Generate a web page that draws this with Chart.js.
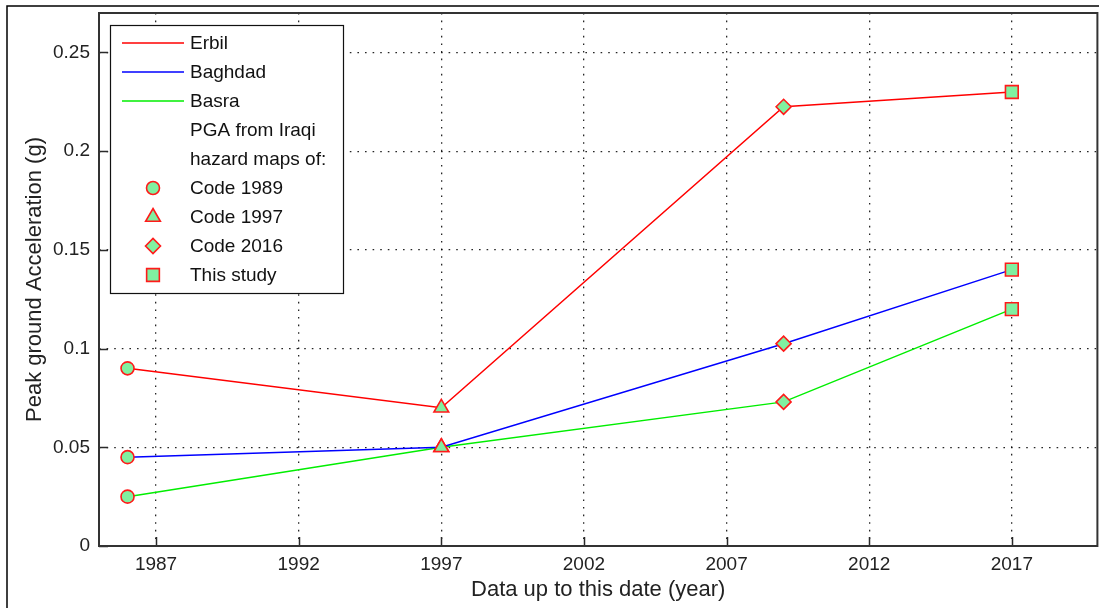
<!DOCTYPE html>
<html>
<head>
<meta charset="utf-8">
<script src="https://cdn.jsdelivr.net/npm/chart.js@4.4.1/dist/chart.umd.min.js"></script>
<style>
  html, body { margin: 0; padding: 0; background: #fff; overflow: hidden; }
  #wrap { width: 1099px; height: 608px; overflow: hidden; }
</style>
</head>
<body>
<div id="wrap"><canvas id="pga" width="1108" height="608"></canvas></div>
<script>
// data
const years = [1986, 1997, 2009, 2017];
const erbil = [0.09, 0.07, 0.2225, 0.23];
const baghdad = [0.045, 0.05, 0.1025, 0.14];
const basra = [0.025, 0.05, 0.073, 0.12];

const seriesNames = ["Erbil", "Baghdad", "Basra"];
const seriesColors = ["#ff0000", "#0000ff", "#00ee00"];
const noteLines = ["PGA from Iraqi", "hazard maps of:"];
const codeLabels = ["Code 1989", "Code 1997", "Code 2016", "This study"];

const xTicks = [1987, 1992, 1997, 2002, 2007, 2012, 2017];
const yTicks = [0, 0.05, 0.1, 0.15, 0.2, 0.25];

const markerStyles = ["circle", "triangle", "rectRot", "rect"];
const markerRadius = [6.5, 8.5, 7.5, 9];
const markerFill = "#80f0a0";
const markerEdge = "#ff1a1a";
const FONT = "'Liberation Sans', Arial, sans-serif";

function toPoints(vals) {
    return vals.map((v, i) => ({ x: years[i], y: v }));
}

const datasets = [erbil, baghdad, basra].map((vals, i) => ({
    label: seriesNames[i],
    data: toPoints(vals),
    showLine: true,
    borderColor: seriesColors[i],
    borderWidth: 1.5,
    pointStyle: markerStyles,
    pointRadius: markerRadius,
    pointBackgroundColor: markerFill,
    pointBorderColor: markerEdge,
    pointBorderWidth: 1.6,
    tension: 0,
}));

// frame, axis box, inward ticks and the in-plot legend
const figureDecor = {
    id: "figureDecor",
    beforeDraw(chart) {
        const ctx = chart.ctx;
        ctx.save();
        ctx.strokeStyle = "#000";
        ctx.lineWidth = 1.5;
        ctx.beginPath();
        ctx.moveTo(7, chart.height);
        ctx.lineTo(7, 6);
        ctx.lineTo(chart.width, 6);
        ctx.stroke();
        ctx.restore();
    },
    afterDraw(chart) {
        const ctx = chart.ctx;
        const a = chart.chartArea;
        const xs = chart.scales.x, ys = chart.scales.y;
        ctx.save();
        ctx.strokeStyle = "#2a2a2a";
        ctx.lineWidth = 1.5;
        xTicks.forEach(t => {
            const px = Math.round(xs.getPixelForValue(t)) + 0.5;
            ctx.beginPath();
            ctx.moveTo(px, a.bottom);
            ctx.lineTo(px, a.bottom - 9);
            ctx.stroke();
        });
        yTicks.forEach(t => {
            const py = Math.round(ys.getPixelForValue(t)) + 0.5;
            ctx.beginPath();
            ctx.moveTo(a.left, py);
            ctx.lineTo(a.left + 9, py);
            ctx.stroke();
        });
        ctx.lineWidth = 2;
        ctx.strokeStyle = "#333";
        ctx.strokeRect(a.left, a.top, a.right - a.left, a.bottom - a.top);

        // legend
        const lx = a.left + 11, ly = a.top + 12, lw = 233, lh = 268;
        ctx.fillStyle = "#fff";
        ctx.fillRect(lx, ly, lw, lh);
        ctx.lineWidth = 1.2;
        ctx.strokeStyle = "#111";
        ctx.strokeRect(lx + 0.5, ly + 0.5, lw, lh);

        const rowH = 29;
        let y = ly + 18;
        ctx.font = "19px " + FONT;
        ctx.textBaseline = "middle";
        ctx.textAlign = "left";
        const textX = lx + 80;
        seriesNames.forEach((name, i) => {
            ctx.strokeStyle = seriesColors[i];
            ctx.lineWidth = 1.5;
            ctx.beginPath();
            ctx.moveTo(lx + 12, y);
            ctx.lineTo(lx + 74, y);
            ctx.stroke();
            ctx.fillStyle = "#111";
            ctx.fillText(name, textX, y + 1);
            y += rowH;
        });
        noteLines.forEach(txt => {
            ctx.fillStyle = "#111";
            ctx.fillText(txt, textX, y + 1);
            y += rowH;
        });
        codeLabels.forEach((txt, i) => {
            ctx.fillStyle = markerFill;
            ctx.strokeStyle = markerEdge;
            ctx.lineWidth = 1.6;
            Chart.helpers.drawPoint(ctx, {
                pointStyle: markerStyles[i],
                radius: markerRadius[i],
                borderWidth: 1.6,
                rotation: 0,
            }, lx + 43, y);
            ctx.fillStyle = "#111";
            ctx.fillText(txt, textX, y + 1);
            y += rowH;
        });
        ctx.restore();
    }
};

new Chart(document.getElementById("pga"), {
    type: "scatter",
    data: { datasets },
    options: {
        responsive: false,
        animation: false,
        devicePixelRatio: 1,
        layout: { padding: { left: 0, right: 0, top: 13, bottom: 0 } },
        plugins: {
            legend: { display: false },
            tooltip: { enabled: false },
        },
        scales: {
            x: {
                type: "linear",
                min: 1985,
                max: 2020,
                afterBuildTicks: s => { s.ticks = xTicks.map(v => ({ value: v })); },
                afterFit: s => {
                    s.height = 62;
                    s.paddingLeft = 0;
                    s.paddingRight = 0;
                },
                ticks: {
                    color: "#222",
                    font: { family: FONT, size: 19 },
                    padding: 7,
                    maxRotation: 0,
                    callback: v => String(v),
                },
                grid: {
                    color: "rgba(0,0,0,0.85)",
                    lineWidth: 1.3,
                    drawTicks: false,
                },
                border: { display: false, dash: [1.6, 6] },
                title: {
                    display: true,
                    text: "Data up to this date (year)",
                    color: "#222",
                    font: { family: FONT, size: 22 },
                    padding: { top: 0, bottom: 5 },
                },
            },
            y: {
                min: 0,
                max: 0.27,
                afterBuildTicks: s => { s.ticks = yTicks.map(v => ({ value: v })); },
                afterFit: s => {
                    s.width = 99;
                    s.paddingTop = 0;
                    s.paddingBottom = 0;
                },
                ticks: {
                    color: "#222",
                    font: { family: FONT, size: 19 },
                    padding: 9,
                    callback: v => String(v),
                },
                grid: {
                    color: "rgba(0,0,0,0.85)",
                    lineWidth: 1.3,
                    drawTicks: false,
                },
                border: { display: false, dash: [1.6, 6] },
                title: {
                    display: true,
                    text: "Peak ground Acceleration (g)",
                    color: "#222",
                    font: { family: FONT, size: 22 },
                    padding: { top: 22, bottom: 0 },
                },
            },
        },
    },
    plugins: [figureDecor],
});
</script>
</body>
</html>
